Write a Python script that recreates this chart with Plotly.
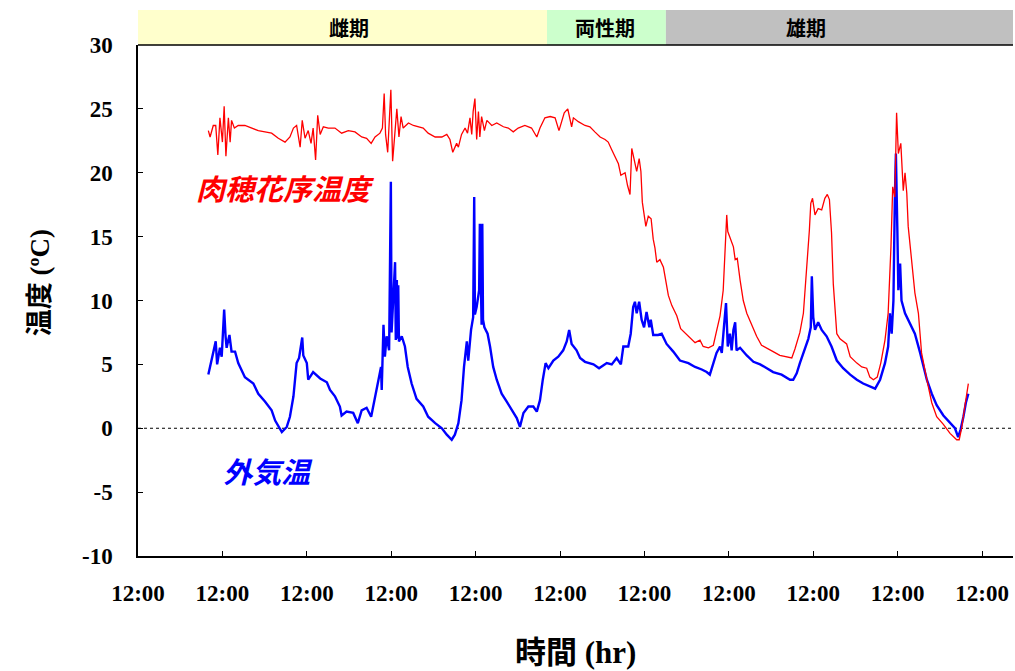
import plotly.graph_objects as go

# Hours elapsed since the first 12:00 on the time axis, and temperatures (deg C)
spadix_hours = [
    20.0, 20.5, 21.4, 22.1, 22.7, 23.3, 24.0, 24.5, 25.0, 25.7, 26.2, 26.6, 27.4, 28.5, 30.4,
    32.3, 34.2, 36.1, 38.0, 39.9, 41.8, 43.2, 44.2, 45.1, 46.1, 46.7, 47.5, 48.4, 49.2, 49.8,
    50.5, 51.1, 51.8, 52.7, 54.1, 56.0, 57.9, 59.8, 61.7, 63.6, 65.0, 66.3, 67.4, 68.8, 69.5,
    70.0, 70.4, 71.0, 71.4, 71.9, 72.4, 73.1, 73.6, 74.2, 74.8, 75.4, 76.9, 78.3, 79.7, 81.1,
    82.5, 84.5, 86.4, 87.8, 88.7, 89.5, 90.6, 91.1, 92.0, 93.0, 93.7, 94.4, 94.9, 95.3, 95.8,
    96.3, 96.8, 97.2, 97.7, 98.5, 99.2, 100.6, 102.0, 103.9, 105.3, 106.7, 108.1, 110.0, 111.9,
    113.4, 114.3, 115.7, 117.2, 118.6, 119.7, 120.5, 121.2, 122.2, 123.3, 123.8, 125.2, 127.1,
    128.5, 129.9, 131.4, 132.8, 133.7, 134.7, 135.6, 136.6, 137.3, 138.5, 139.2, 139.9, 140.4,
    141.0, 141.8, 142.5, 143.0, 143.4, 144.0, 144.4, 145.1, 145.9, 146.5, 147.0, 147.5, 148.4,
    149.4, 150.0, 150.8, 151.8, 153.2, 154.3, 156.5, 158.4, 159.8, 160.7, 162.2, 163.6, 164.5,
    165.5, 166.4, 166.9, 167.4, 167.7, 168.3, 169.3, 169.8, 170.4, 171.2, 172.1, 173.1, 174.5,
    175.9, 177.3, 178.8, 180.6, 182.5, 184.5, 185.9, 186.8, 188.2, 189.2, 190.1, 190.9, 191.3,
    191.8, 192.5, 193.4, 194.4, 195.3, 196.0, 196.6, 197.2, 197.7, 198.7, 199.6, 201.5, 202.5,
    204.4, 205.8, 207.2, 208.1, 209.1, 210.2, 211.2, 212.4, 213.3, 214.1, 214.6, 215.2, 215.7,
    216.2, 216.9, 217.6, 218.1, 218.6, 219.0, 220.0, 220.9, 221.9, 222.8, 224.3, 225.7, 227.1,
    229.0, 230.9, 232.8, 233.5, 234.2, 235.1, 236.1,
]
spadix_temp = [
    23.3, 22.8, 23.7, 23.7, 21.4, 24.3, 22.4, 25.2, 21.3, 24.3, 22.4, 24.1, 23.5, 23.7, 23.7,
    23.5, 23.3, 23.2, 23.1, 22.7, 22.4, 22.8, 23.5, 23.7, 22.0, 24.1, 22.7, 23.3, 22.3, 23.5,
    21.0, 24.5, 23.0, 23.6, 23.5, 23.5, 23.1, 23.3, 23.2, 22.8, 22.7, 22.3, 22.8, 23.1, 23.5,
    26.2, 23.0, 21.6, 24.3, 26.5, 20.9, 23.7, 25.0, 22.8, 24.4, 23.5, 23.9, 23.7, 23.6, 23.5,
    23.1, 22.8, 22.8, 23.0, 22.6, 21.6, 22.3, 22.0, 23.0, 23.5, 23.1, 24.3, 23.0, 24.8, 25.8,
    22.6, 24.8, 22.8, 24.4, 23.3, 24.1, 23.7, 23.9, 23.6, 23.5, 23.2, 23.5, 23.7, 23.5,
    22.8, 23.5, 24.3, 24.4, 24.3, 23.3, 24.1, 24.7, 25.0, 23.6, 24.3, 24.0, 23.7,
    23.6, 23.2, 22.8, 22.6, 22.4, 21.8, 21.3, 20.7, 19.8, 20.0, 19.0, 18.3, 21.9,
    21.1, 20.1, 21.1, 20.1, 17.7, 16.4, 15.8, 16.6, 16.4, 14.8, 14.1, 13.0, 13.2,
    12.6, 11.5, 10.4, 9.6, 8.8, 7.8, 7.2, 6.7, 6.9, 6.4, 6.3, 6.5, 7.6,
    8.8, 10.8, 13.7, 16.7, 15.4, 15.0, 14.2, 13.2, 13.3, 11.6, 10.0, 9.0, 8.1,
    7.2, 6.5, 6.3, 6.0, 5.7, 5.6, 5.5, 6.2, 7.5, 9.0, 12.1, 15.5, 17.6,
    18.0, 16.7, 17.2, 17.1, 18.0, 18.3, 17.9, 15.3, 11.3, 7.4, 7.0, 6.6, 5.6,
    5.1, 4.8, 4.7, 4.0, 3.8, 4.0, 5.1, 6.9, 9.0, 14.2, 18.9, 18.1, 24.7,
    21.5, 22.3, 18.6, 20.0, 18.4, 15.8, 13.2, 10.6, 9.0, 5.9, 3.8, 2.0, 0.9,
    0.3, -0.4, -0.9, -0.9, 0.0, 1.7, 3.5,
]

air_hours = [
    20.0, 20.5, 21.4, 22.1, 22.5, 23.3, 23.8, 24.5, 24.9, 25.2, 26.0, 26.6, 27.6, 28.5, 30.4,
    32.8, 34.2, 36.1, 38.0, 39.0, 40.9, 42.3, 43.2, 44.2, 45.1, 45.8, 46.7, 47.0, 48.0, 48.4,
    49.8, 51.8, 53.7, 54.6, 56.0, 57.4, 57.9, 59.3, 61.2, 62.5, 63.6, 65.0, 66.3, 67.4, 68.2,
    69.1, 69.3, 69.8, 70.2, 70.7, 71.4, 71.9, 72.1, 72.8, 73.1, 73.3, 73.6, 73.8, 74.0, 74.2,
    75.0, 75.9, 76.7, 77.8, 79.2, 81.1, 82.5, 84.5, 86.4, 87.8, 89.2, 90.1, 91.1, 92.0, 92.7,
    93.5, 93.9, 94.7, 95.3, 95.6, 95.8, 96.3, 97.0, 97.2, 97.7, 97.9, 98.1, 98.5, 99.4, 100.1,
    101.0, 102.0, 103.4, 104.8, 106.3, 107.7, 108.6, 109.6, 111.0, 112.4, 113.4, 114.3, 115.1,
    115.9, 116.7, 118.1, 119.5, 120.9, 121.9, 122.6, 123.3, 124.7, 125.7, 127.1, 129.5, 131.1,
    133.3, 134.7, 136.1, 137.3, 138.0, 139.4, 140.1, 140.8, 141.3, 141.8, 142.5, 143.2, 143.9,
    144.6, 145.4, 145.8, 146.5, 147.9, 148.9, 150.3, 152.2, 154.1, 156.5, 158.4, 160.3, 161.7,
    162.6, 163.6, 164.5, 165.5, 166.0, 166.6, 167.2, 167.7, 168.3, 168.8, 169.3, 169.8, 170.2,
    171.2, 172.1, 173.1, 175.0, 176.9, 178.8, 180.6, 183.0, 185.4, 186.3, 187.3, 188.2, 189.7,
    190.6, 191.3, 191.6, 192.0, 192.5, 193.4, 194.4, 195.8, 197.2, 198.7, 200.5, 202.5, 204.4,
    206.2, 208.1, 209.6, 211.0, 212.4, 213.3, 213.8, 214.3, 214.8, 215.2, 215.5, 215.9, 216.2,
    216.7, 217.1, 218.1, 219.0, 220.0, 220.9, 222.4, 223.3, 224.3, 225.7, 227.1, 229.0, 230.9,
    232.3, 233.2, 233.9, 234.7, 235.4, 236.1,
]
air_temp = [
    4.2, 4.8, 6.1, 6.8, 5.0, 6.3, 5.6, 9.3, 7.2, 6.3, 7.3, 6.0, 6.0, 5.1, 4.0,
    3.5, 2.7, 2.1, 1.4, 0.6, -0.3, 0.1, 0.9, 2.5, 5.1, 5.5, 7.1, 5.7, 5.1, 3.8,
    4.4, 3.9, 3.6, 3.0, 2.5, 1.7, 1.0, 1.3, 1.2, 0.4, 1.4, 1.6, 0.9, 2.5, 3.8,
    4.8, 3.0, 8.1, 5.6, 7.2, 6.1, 19.3, 7.5, 11.9, 13.0, 6.9, 11.6, 7.0, 11.2, 6.8,
    7.2, 6.4, 4.8, 3.5, 2.3, 1.7, 0.9, 0.4, 0.0, -0.5, -0.9, -0.5, 0.4, 2.2, 4.8,
    6.8, 5.3, 7.7, 8.7, 18.1, 8.9, 9.5, 10.8, 16.0, 8.1, 16.0, 8.5, 7.9, 7.4, 6.4,
    4.8, 3.8, 2.7, 2.1, 1.4, 0.8, 0.1, 1.2, 1.7, 1.7, 1.3, 2.2, 3.8,
    5.1, 4.7, 5.3, 5.6, 6.1, 6.8, 7.7, 6.6, 6.1, 5.5, 5.2, 5.0, 4.7,
    5.1, 5.0, 5.5, 5.0, 6.4, 6.4, 7.4, 9.5, 9.9, 9.0, 9.9, 8.5, 7.9,
    9.1, 7.9, 8.5, 7.3, 7.3, 7.4, 6.6, 6.0, 5.3, 5.1, 4.8, 4.6, 4.4,
    4.2, 5.1, 5.9, 6.4, 5.9, 7.9, 9.8, 6.4, 7.4, 6.1, 7.7, 8.3, 6.1,
    6.3, 6.0, 5.7, 5.2, 5.0, 4.7, 4.4, 4.2, 3.8, 3.8, 4.3, 5.1, 6.3,
    7.0, 7.9, 11.9, 8.7, 7.7, 8.3, 7.7, 7.2, 6.4, 5.3, 4.7, 4.2, 3.8,
    3.5, 3.3, 3.1, 3.8, 5.1, 6.4, 9.0, 7.4, 10.0, 17.9, 21.5, 15.8, 10.8,
    12.9, 10.0, 9.0, 8.5, 7.9, 7.4, 5.9, 4.8, 3.8, 2.7, 1.8, 1.0, 0.4,
    0.0, -0.7, -0.1, 0.9, 2.0, 2.7,
]

# Flowering phases shown in the header strip
phase_names = ["雌期", "両性期", "雄期"]
phase_starts = [0.0, 116.3, 150.1]
phase_ends = [116.3, 150.1, 249.0]
phase_label_at = [60.0, 132.8, 190.0]
phase_colors = ["#FFFFCC", "#CCFFCC", "#C0C0C0"]

tick_hours = [0, 24, 48, 72, 96, 120, 144, 168, 192, 216, 240]
tick_labels = ["12:00"] * len(tick_hours)
y_ticks = [-10, -5, 0, 5, 10, 15, 20, 25, 30]
y_tick_labels = ["-10", "-5", "0", "5", "10", "15", "20", "25", "30"]

serif = "Liberation Serif, Noto Sans CJK JP"
cjk = "Noto Sans CJK JP"

fig = go.Figure()
fig.add_trace(go.Scatter(
    x=air_hours, y=air_temp, mode="lines",
    line=dict(color="#0000FF", width=2.4), name="外気温", hoverinfo="skip",
))
fig.add_trace(go.Scatter(
    x=spadix_hours, y=spadix_temp, mode="lines",
    line=dict(color="#FF0000", width=1.3), name="肉穂花序温度", hoverinfo="skip",
))

shapes = []
annotations = []
strip_top = 1 + 35 / 511
for name, x0, x1, xl, col in zip(phase_names, phase_starts, phase_ends, phase_label_at, phase_colors):
    shapes.append(dict(type="rect", xref="x", yref="paper", x0=x0, x1=x1,
                       y0=1.0, y1=strip_top, fillcolor=col, line=dict(width=0), layer="below"))
    annotations.append(dict(xref="x", yref="paper", x=xl, y=(1 + strip_top) / 2, text=name,
                            showarrow=False,
                            font=dict(family=cjk, size=20, color="black", weight="bold"),
                            xanchor="center", yanchor="middle"))

# frame line along the top of the plot
shapes.append(dict(type="line", xref="paper", yref="paper", x0=0, x1=1, y0=1, y1=1,
                   line=dict(color="black", width=1.5)))
# dotted zero reference
shapes.append(dict(type="line", xref="paper", yref="y", x0=0, x1=1, y0=0, y1=0,
                   line=dict(color="black", width=1, dash="dot"), layer="below"))

annotations += [
    dict(xref="paper", yref="y", x=(194 - 138) / 875, y=18.9, xanchor="left", yanchor="middle",
         text="肉穂花序温度", showarrow=False,
         font=dict(family=cjk, size=29, color="#FF0000", weight="bold", style="italic")),
    dict(xref="paper", yref="y", x=(221 - 138) / 875, y=-3.3, xanchor="left", yanchor="middle",
         text="外気温", showarrow=False,
         font=dict(family=cjk, size=29, color="#0000FF", weight="bold", style="italic")),
    dict(xref="paper", yref="paper", x=-0.112, y=0.534, textangle=-90,
         text="温度 (ºC)", showarrow=False,
         font=dict(family=serif, size=27, color="black", weight="bold"),
         xanchor="center", yanchor="middle"),
    dict(xref="paper", yref="paper", x=0.5, y=-0.188,
         text="時間 (hr)", showarrow=False,
         font=dict(family=serif, size=31, color="black", weight="bold"),
         xanchor="center", yanchor="middle"),
]

fig.update_layout(
    width=1015, height=671,
    margin=dict(l=138, r=2, t=45, b=115),
    paper_bgcolor="white", plot_bgcolor="white",
    showlegend=False,
    shapes=shapes, annotations=annotations,
    xaxis=dict(range=[0, 248.8], tickvals=tick_hours, ticktext=tick_labels,
               showgrid=False, zeroline=False, showline=True, linecolor="black", linewidth=1.5,
               ticks="inside", ticklen=5, tickcolor="black", ticklabelstandoff=16,
               tickfont=dict(family=serif, size=23, color="black", weight="bold")),
    yaxis=dict(range=[-10, 30], tickvals=y_ticks, ticktext=y_tick_labels,
               showgrid=False, zeroline=False,
               showline=True, linecolor="black", linewidth=1.5,
               ticks="inside", ticklen=5, tickcolor="black", ticklabelstandoff=19,
               tickfont=dict(family=serif, size=23, color="black", weight="bold")),
)

fig.write_html("out.html")
